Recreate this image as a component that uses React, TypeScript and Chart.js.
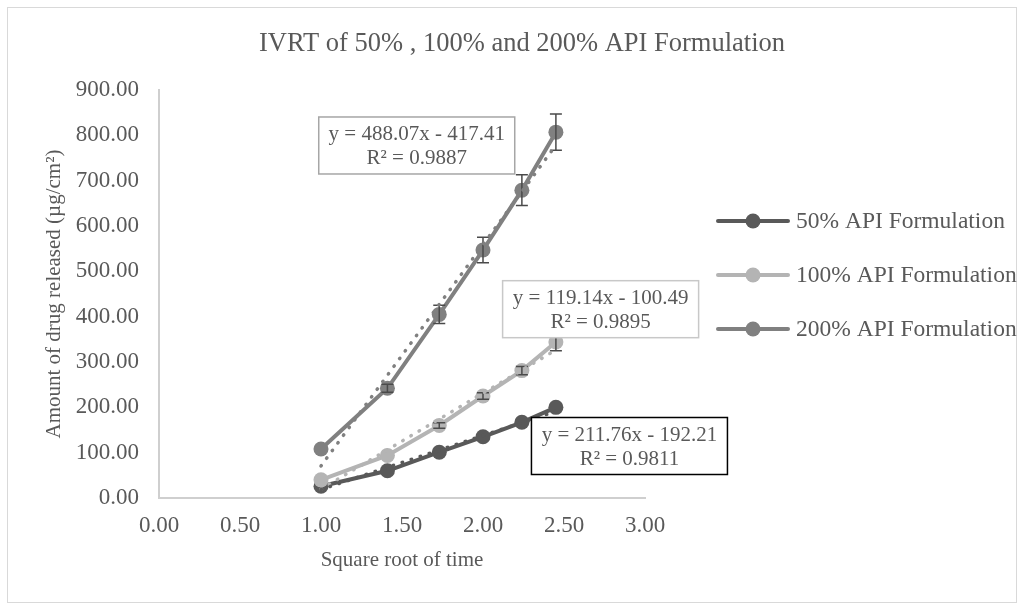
import React, { useEffect, useRef } from "react";
import { Chart, registerables } from "chart.js";

Chart.register(...registerables);

// ---- data ----
const sqrtTime = [1.0, 1.41, 1.73, 2.0, 2.24, 2.45];
const seriesNames = ["50% API Formulation", "100% API Formulation", "200% API Formulation"];
const values50 = [26, 60, 101, 135, 167, 200];
const values100 = [40, 94, 160, 225, 281, 344];
const values200 = [108, 242, 405, 547, 679, 807];
const err50 = [0, 0, 0, 0, 0, 0];
const err100 = [0, 0, 6, 7, 9, 19];
const err200 = [0, 9, 20, 28, 34, 40];
// linear trendlines (slope, intercept) as printed on the chart
const trendSlopes = [119.14, 211.76, 488.07];
const trendIntercepts = [-100.49, -192.21, -417.41];
// trendline label boxes (text and anchor in data units)
const boxLines = [
  ["y = 211.76x - 192.21", "R² = 0.9811"],
  ["y = 119.14x - 100.49", "R² = 0.9895"],
  ["y = 488.07x - 417.41", "R² = 0.9887"],
];
const boxAnchorX = [2.904, 2.726, 1.591];
const boxAnchorY = [114.7, 416.5, 777.6];
const xMin = 0, xMax = 3, xStep = 0.5;
const yMin = 0, yMax = 900, yStep = 100;
const chartTitle = "IVRT of 50% , 100% and 200% API Formulation";
const xTitle = "Square root of time";
const yTitle = "Amount of drug released (µg/cm²)";

// ---- styles ----
const colors = ["#595959", "#b4b4b4", "#808080"];
const boxBorders = ["#000000", "#c8c8c8", "#a6a6a6"];
const FONT = "'Liberation Serif', 'Times New Roman', serif";
const TEXT = "#595959";

const allValues = [values50, values100, values200];
const allErrors = [err50, err100, err200];

function decoPlugin() {
  return {
    id: "deco",
    beforeDraw(chart: any) {
      const ctx = chart.ctx;
      ctx.save();
      ctx.fillStyle = "#ffffff";
      ctx.fillRect(0, 0, chart.width, chart.height);
      ctx.strokeStyle = "#d9d9d9";
      ctx.lineWidth = 1;
      ctx.strokeRect(7.5, 7.5, chart.width - 15, chart.height - 10);
      ctx.fillStyle = TEXT;
      ctx.font = `26.5px ${FONT}`;
      ctx.textAlign = "center";
      ctx.textBaseline = "alphabetic";
      ctx.fillText(chartTitle, 522, 51);
      ctx.restore();
    },
    afterDatasetDraw(chart: any, args: any) {
      const ds = chart.data.datasets[args.index];
      const s = ds.seriesIndex;
      if (s === undefined || s === null) return;
      const ctx = chart.ctx;
      const xs = chart.scales.x;
      const ys = chart.scales.y;
      ctx.save();
      ctx.strokeStyle = "#4a4a4a";
      ctx.lineWidth = 1.5;
      for (let k = 0; k < sqrtTime.length; k++) {
        if (!allErrors[s][k]) continue;
        const px = xs.getPixelForValue(sqrtTime[k]);
        const top = ys.getPixelForValue(allValues[s][k] + allErrors[s][k]);
        const bot = ys.getPixelForValue(allValues[s][k] - allErrors[s][k]);
        ctx.beginPath();
        ctx.moveTo(px, top);
        ctx.lineTo(px, bot);
        ctx.moveTo(px - 6, top);
        ctx.lineTo(px + 6, top);
        ctx.moveTo(px - 6, bot);
        ctx.lineTo(px + 6, bot);
        ctx.stroke();
      }
      ctx.restore();
    },
    afterDraw(chart: any) {
      const ctx = chart.ctx;
      const xs = chart.scales.x;
      const ys = chart.scales.y;
      ctx.save();
      ctx.font = `21px ${FONT}`;
      ctx.textAlign = "center";
      ctx.textBaseline = "middle";
      for (let i = 0; i < boxLines.length; i++) {
        const cx = xs.getPixelForValue(boxAnchorX[i]);
        const cy = ys.getPixelForValue(boxAnchorY[i]);
        const w = 196, h = 57;
        ctx.fillStyle = "#ffffff";
        ctx.fillRect(cx - w / 2, cy - h / 2, w, h);
        ctx.strokeStyle = boxBorders[i];
        ctx.lineWidth = 1.5;
        ctx.strokeRect(cx - w / 2, cy - h / 2, w, h);
        ctx.fillStyle = TEXT;
        ctx.fillText(boxLines[i][0], cx, cy - 11);
        ctx.fillText(boxLines[i][1], cx, cy + 13);
      }
      // legend
      const lx0 = 718, lx1 = 788, tx = 796;
      const rowY = [221, 275, 329];
      ctx.font = `23.5px ${FONT}`;
      ctx.textAlign = "left";
      ctx.textBaseline = "middle";
      for (let i = 0; i < seriesNames.length; i++) {
        ctx.strokeStyle = colors[i];
        ctx.lineWidth = 4;
        ctx.lineCap = "round";
        ctx.beginPath();
        ctx.moveTo(lx0, rowY[i]);
        ctx.lineTo(lx1, rowY[i]);
        ctx.stroke();
        ctx.fillStyle = colors[i];
        ctx.beginPath();
        ctx.arc((lx0 + lx1) / 2, rowY[i], 7.5, 0, Math.PI * 2);
        ctx.fill();
        ctx.fillStyle = TEXT;
        ctx.fillText(seriesNames[i], tx, rowY[i] + 1);
      }
      ctx.restore();
    },
  };
}

export default function App() {
  const ref = useRef<HTMLCanvasElement | null>(null);
  useEffect(() => {
    if (!ref.current) return;
    const seriesSets = allValues.map((vals, i) => ({
      label: seriesNames[i],
      seriesIndex: i,
      data: sqrtTime.map((x, k) => ({ x, y: vals[k] })),
      showLine: true,
      borderColor: colors[i],
      backgroundColor: colors[i],
      borderWidth: 4,
      pointRadius: 7.5,
      pointBorderWidth: 0,
      pointBackgroundColor: colors[i],
      order: 3 - i,
    }));
    const trendSets = trendSlopes.map((m, i) => {
      const x0 = sqrtTime[0];
      const x1 = sqrtTime[sqrtTime.length - 1];
      return {
        label: seriesNames[i] + " trend",
        data: [
          { x: x0, y: m * x0 + trendIntercepts[i] },
          { x: x1, y: m * x1 + trendIntercepts[i] },
        ],
        showLine: true,
        borderColor: colors[i],
        borderWidth: 3.5,
        borderDash: [0.5, 9],
        borderCapStyle: "round",
        pointRadius: 0,
        order: 0,
      };
    });
    const tickFont = { family: FONT, size: 23 };
    const chart = new Chart(ref.current, {
      type: "scatter",
      data: { datasets: [...trendSets, ...seriesSets] as any },
      options: {
        responsive: false,
        animation: false,
        layout: { padding: { left: 0, top: 90, right: 379, bottom: 0 } },
        plugins: {
          legend: { display: false },
          title: { display: false },
          tooltip: { enabled: false },
        },
        scales: {
          x: {
            type: "linear",
            min: xMin,
            max: xMax,
            ticks: {
              stepSize: xStep,
              color: TEXT,
              font: tickFont,
              padding: 14,
              callback: (v: any) => Number(v).toFixed(2),
            },
            grid: { display: false, drawTicks: false },
            border: { display: true, color: "#cfcfcf", width: 2 },
            title: {
              display: true,
              text: xTitle,
              color: TEXT,
              font: { family: FONT, size: 21 },
              padding: { top: 0, bottom: 32 },
            },
            afterFit: (s: any) => {
              s.height = 107;
            },
          },
          y: {
            type: "linear",
            min: yMin,
            max: yMax,
            ticks: {
              stepSize: yStep,
              color: TEXT,
              font: tickFont,
              padding: 20,
              callback: (v: any) => Number(v).toFixed(2),
            },
            grid: { display: false, drawTicks: false },
            border: { display: true, color: "#cfcfcf", width: 2 },
            title: {
              display: true,
              text: yTitle,
              color: TEXT,
              font: { family: FONT, size: 21 },
              padding: { top: 42, bottom: 0 },
            },
            afterFit: (s: any) => {
              s.width = 159;
            },
          },
        },
      } as any,
      plugins: [decoPlugin()],
    });
    return () => chart.destroy();
  }, []);
  return (
    <div style={{ position: "absolute", left: 0, top: 0, width: 1024, height: 605 }}>
      <canvas ref={ref} width={1024} height={605} style={{ display: "block" }} />
    </div>
  );
}
